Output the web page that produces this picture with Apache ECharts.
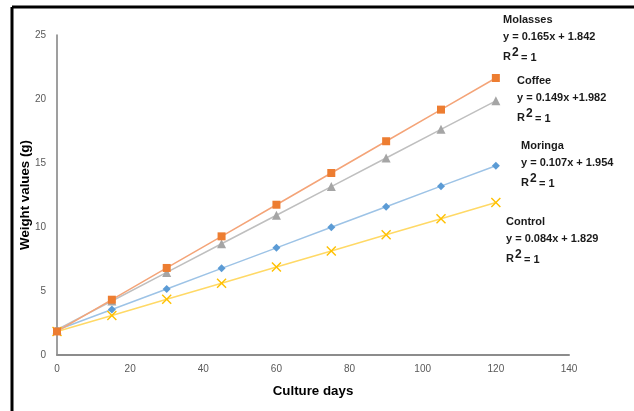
<!DOCTYPE html>
<html>
<head>
<meta charset="utf-8">
<script src="https://cdn.jsdelivr.net/npm/echarts@6/dist/echarts.min.js"></script>
<style>
html, body { margin: 0; padding: 0; background: #fff; }
#main { width: 634px; height: 411px; }
</style>
</head>
<body>
<div id="main"></div>
<script>
// culture days on the x axis
var days = [0, 15, 30, 45, 60, 75, 90, 105, 120];
// weight values (g)
var molasses = [1.84, 4.32, 6.80, 9.27, 11.74, 14.22, 16.70, 19.17, 21.64];
var coffee = [1.98, 4.22, 6.45, 8.69, 10.92, 13.16, 15.39, 17.63, 19.86];
var moringa = [1.95, 3.56, 5.16, 6.77, 8.37, 9.98, 11.58, 13.19, 14.79];
var control = [1.83, 3.09, 4.35, 5.61, 6.87, 8.13, 9.39, 10.65, 11.91];

var names = ['Molasses', 'Coffee', 'Moringa', 'Control'];
var equations = ['y = 0.165x + 1.842', 'y = 0.149x +1.982', 'y = 0.107x + 1.954', 'y = 0.084x + 1.829'];

var chart = echarts.init(document.getElementById('main'));

function pairs(vals) {
    return days.map(function (d, i) { return [d, vals[i]]; });
}

var crossPath = 'path://M0,1L1,0L5,4L9,0L10,1L6,5L10,9L9,10L5,6L1,10L0,9L4,5Z';

function mkSeries(name, vals, lineColor, markColor, symbol, size) {
    return {
        name: name,
        type: 'line',
        data: pairs(vals),
        symbol: symbol,
        symbolSize: size,
        showAllSymbol: true,
        lineStyle: { color: lineColor, width: 1.5 },
        itemStyle: { color: markColor, borderWidth: 0 },
        z: 3,
        animation: false
    };
}

function txt(x, y, s, size) {
    return {
        type: 'text',
        x: x,
        y: y,
        style: {
            text: s,
            fontFamily: 'Liberation Sans',
            fontSize: size || 11,
            fontWeight: 'bold',
            fill: '#1a1a1a',
            verticalAlign: 'middle'
        }
    };
}

// trend line labels, placed like the original text boxes (y = centre of first line)
function label(x, y, name, eq) {
    return {
        type: 'group',
        children: [
            txt(x, y, name),
            txt(x, y + 17, eq),
            txt(x, y + 37, 'R'),
            txt(x + 9, y + 33, '2', 12),
            txt(x + 18, y + 38, '= 1')
        ]
    };
}

var option = {
    backgroundColor: '#fff',
    animation: false,
    grid: { left: 57, right: 65, top: 35, bottom: 56, containLabel: false },
    xAxis: {
        type: 'value',
        min: 0,
        max: 140,
        interval: 20,
        name: 'Culture days',
        nameLocation: 'middle',
        nameGap: 30,
        nameMoveOverlap: false,
        nameTextStyle: { fontFamily: 'Liberation Sans', fontSize: 13.3, fontWeight: 'bold', color: '#000' },
        axisLine: { lineStyle: { color: '#8c8c8c', width: 2 } },
        axisTick: { show: false },
        splitLine: { show: false },
        axisLabel: { fontFamily: 'Liberation Sans', fontSize: 10, color: '#595959', margin: 9 }
    },
    yAxis: {
        type: 'value',
        min: 0,
        max: 25,
        interval: 5,
        name: 'Weight values (g)',
        nameLocation: 'middle',
        nameGap: 25,
        nameMoveOverlap: false,
        nameTextStyle: { fontFamily: 'Liberation Sans', fontSize: 13.3, fontWeight: 'bold', color: '#000' },
        axisLine: { show: true, lineStyle: { color: '#7f7f7f', width: 1.5 } },
        axisTick: { show: false },
        splitLine: { show: false },
        axisLabel: { fontFamily: 'Liberation Sans', fontSize: 10, color: '#595959', margin: 11 }
    },
    series: [
        mkSeries(names[3], control, '#ffd966', '#ffc000', crossPath, 10),
        mkSeries(names[2], moringa, '#9dc3e6', '#5b9bd5', 'diamond', 8),
        mkSeries(names[1], coffee, '#bfbfbf', '#a5a5a5', 'triangle', 9),
        mkSeries(names[0], molasses, '#f4a478', '#ed7d31', 'rect', 8)
    ],
    graphic: [
        { type: 'line', shape: { x1: 12, y1: 7, x2: 634, y2: 7 }, style: { stroke: '#000', lineWidth: 3 } },
        { type: 'line', shape: { x1: 12, y1: 7, x2: 12, y2: 411 }, style: { stroke: '#000', lineWidth: 3 } },
        label(503, 20, names[0], equations[0]),
        label(517, 81, names[1], equations[1]),
        label(521, 146, names[2], equations[2]),
        label(506, 222, names[3], equations[3])
    ]
};
chart.setOption(option);
</script>
</body>
</html>
